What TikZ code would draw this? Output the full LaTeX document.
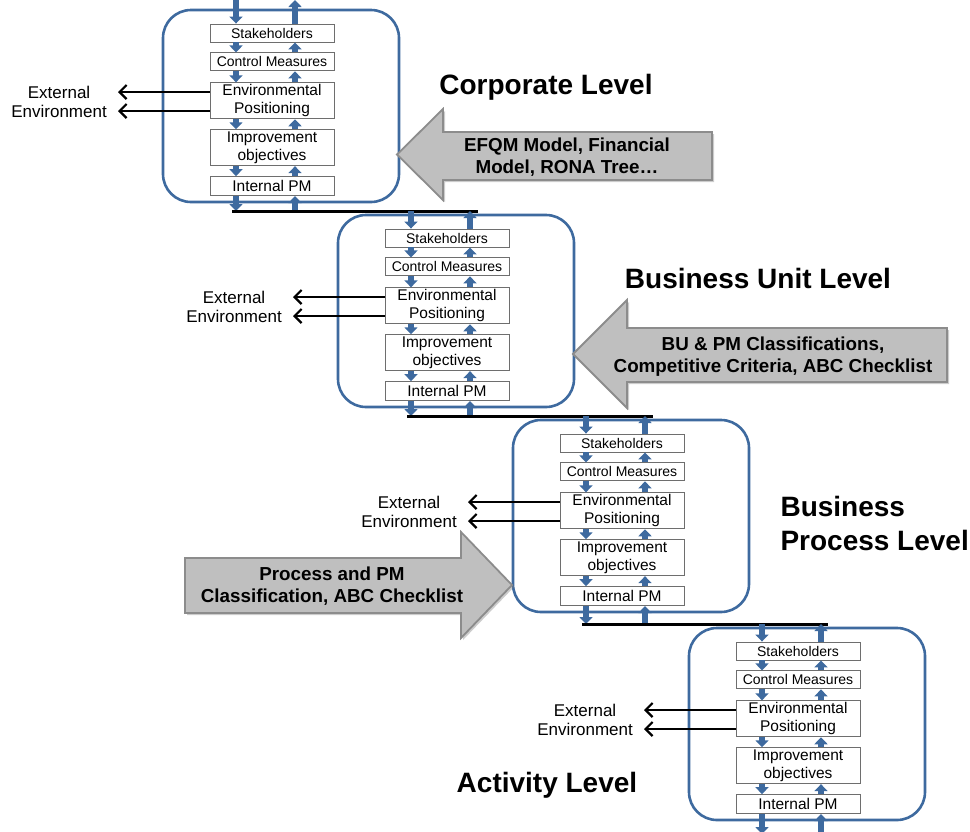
\documentclass[tikz,border=0pt]{standalone}
\usepackage{fontspec}
\setmainfont{Liberation Sans}
\usetikzlibrary{arrows.meta,positioning,shadows}
\definecolor{blockblue}{HTML}{3E6A9F}
\definecolor{boxgray}{HTML}{6E6E6E}
\definecolor{arrowgray}{HTML}{BFBFBF}
\definecolor{arrowedge}{HTML}{8C8C8C}
\begin{document}
\begin{tikzpicture}[x=1pt,y=-1pt,
	stage/.style={draw=blockblue,line width=2.6pt,rounded corners=28pt,minimum width=236pt,minimum height=192pt,inner sep=0pt},
	pmbox/.style={draw=boxgray,line width=0.9pt,fill=white,minimum width=124pt,inner sep=0pt,align=center},
	onerow/.style={pmbox,minimum height=18pt,font=\fontsize{14}{16}\selectfont},
	tworow/.style={pmbox,minimum height=36pt,font=\fontsize{15.5}{18}\selectfont},
	flow/.style={blockblue,line width=5.5pt,-{Triangle[width=13pt,length=7pt]}},
	outward/.style={black,line width=2.2pt,-{Straight Barb[length=7pt,width=14pt]}},
	crossbar/.style={black,line width=3pt},
	input/.style={fill=arrowgray,draw=arrowedge,line width=1.8pt,drop shadow={shadow xshift=2pt,shadow yshift=-2pt,opacity=0.4}},
	inputtext/.style={font=\fontsize{18.8}{22}\selectfont\bfseries,align=center},
	level/.style={font=\fontsize{28}{34}\selectfont\bfseries,align=left},
	extlabel/.style={font=\fontsize{17}{19}\selectfont,align=center,inner sep=0pt}]
	\useasboundingbox (0,0) rectangle (970,831);
	\foreach \i/\dx/\dy/\ty/\by in {1/0/0/0/211,2/175/205/6/211,3/350/410/6/214,4/526/618/6/216}{
		\begin{scope}[shift={(\dx,\dy)}]
			\node[stage] (ob\i) at (281,106) {};
			\node[onerow] (sh\i) at (272,33) {Stakeholders};
			\node[onerow,below=10pt of sh\i] (cm\i) {Control Measures};
			\node[tworow,below=11pt of cm\i] (ep\i) {Environmental\\Positioning};
			\node[tworow,below=10pt of ep\i] (io\i) {Improvement\\objectives};
			\node[onerow,below=10pt of io\i,minimum height=19pt,font=\fontsize{15.5}{18}\selectfont] (ip\i) {Internal PM};
			\coordinate (dn\i) at (236,0);
			\coordinate (up\i) at (295,0);
			\coordinate (top\i) at (0,\ty);
			\coordinate (bot\i) at (0,\by);
			\draw[flow] (top\i -| dn\i) -- (sh\i.north -| dn\i);
			\draw[flow] (sh\i.north -| up\i) -- (top\i -| up\i);
			\foreach \a/\b in {sh/cm,cm/ep,ep/io,io/ip}{
				\draw[flow] (\a\i.south -| dn\i) -- (\b\i.north -| dn\i);
				\draw[flow] (\b\i.north -| up\i) -- (\a\i.south -| up\i);
			}
			\draw[flow] (ip\i.south -| dn\i) -- (bot\i -| dn\i);
			\draw[flow] (bot\i -| up\i) -- (ip\i.south -| up\i);
			\ifnum\i<4
				\coordinate (bl\i) at (232,\by);
				\coordinate (br\i) at (478,\by);
				\draw[crossbar] (bl\i) -- (br\i);
			\fi
			\node[extlabel,anchor=east] (ee\i) at (107,101.5) {External\\Environment};
			\coordinate (ea\i) at (118,92);
			\coordinate (eb\i) at (118,111);
			\draw[outward] (ep\i.west |- ea\i) -- (ea\i);
			\draw[outward] (ep\i.west |- eb\i) -- (eb\i);
		\end{scope}
	}
	\draw[input] (712,132) -- (443,132) -- (443,109) -- (397,154.5) -- (443,200) -- (443,180) -- (712,180) -- cycle;
	\node[inputtext] (efqm) at (567,157) {EFQM Model, Financial\\Model, RONA Tree…};
	\draw[input] (947,328) -- (627,328) -- (627,300) -- (573,354) -- (627,408) -- (627,382) -- (947,382) -- cycle;
	\node[inputtext] (bupm) at (773,357) {BU \& PM Classifications,\\Competitive Criteria, ABC Checklist};
	\draw[input] (185,558) -- (461,558) -- (461,532) -- (512,585) -- (461,638) -- (461,613) -- (185,613) -- cycle;
	\node[inputtext] (procpm) at (332,586) {Process and PM\\Classification, ABC Checklist};
	\node[level] (corp) at (546,87) {Corporate Level};
	\node[level] (bunit) at (758,278) {Business Unit Level};
	\node[level,anchor=west] (bproc) at (777,523) {Business\\Process Level};
	\node[level] (act) at (547,785) {Activity Level};
\end{tikzpicture}
\end{document}
